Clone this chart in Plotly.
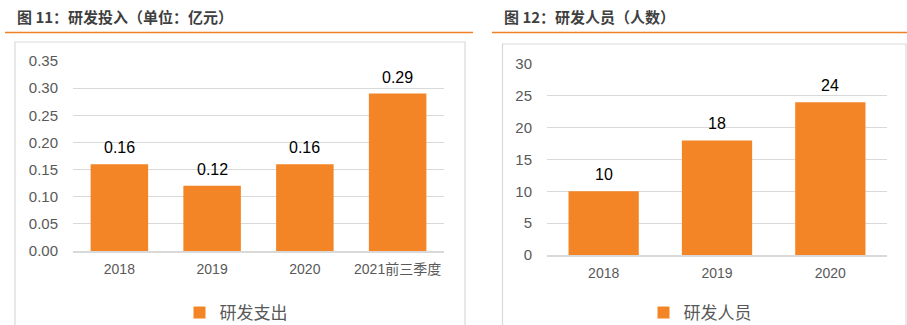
import plotly.graph_objects as go

W, H = 907, 325

# Data
cats_rd = ["2018", "2019", "2020", "2021前三季度"]
vals_rd = [0.16, 0.12, 0.16, 0.29]
labels_rd = ["0.16", "0.12", "0.16", "0.29"]
ticks_rd = [0, 0.05, 0.10, 0.15, 0.20, 0.25, 0.30, 0.35]
ticktext_rd = ["0.00", "0.05", "0.10", "0.15", "0.20", "0.25", "0.30", "0.35"]

cats_staff = ["2018", "2019", "2020"]
vals_staff = [10, 18, 24]
ticks_staff = [0, 5, 10, 15, 20, 25, 30]

title_left = "图 11：研发投入（单位：亿元）"
title_right = "图 12：研发人员（人数）"
name_left = "研发支出"
name_right = "研发人员"

BAR = "#F38526"
ORANGE = "#F08024"
GRID = "#D9D9D9"
FONT = "Liberation Sans, Arial, Noto Sans CJK SC, sans-serif"
CJK = "Noto Sans CJK SC, sans-serif"


def px(x):
    return x / W


def py(y):
    return 1 - y / H


fig = go.Figure()
fig.add_trace(go.Bar(x=cats_rd, y=vals_rd, name=name_left, marker_color=BAR,
                     marker_line_width=0, width=0.62, xaxis="x", yaxis="y",
                     legend="legend"))
fig.add_trace(go.Bar(x=cats_staff, y=vals_staff, name=name_right, marker_color=BAR,
                     marker_line_width=0, width=0.62, xaxis="x2", yaxis="y2",
                     legend="legend2"))

annotations = []
for i, (v, t) in enumerate(zip(vals_rd, labels_rd)):
    annotations.append(dict(x=i, y=v, xref="x", yref="y", text=t, showarrow=False,
                            yanchor="bottom", yshift=6,
                            font=dict(family=FONT, size=16, color="#000000")))
for i, v in enumerate(vals_staff):
    annotations.append(dict(x=i, y=v, xref="x2", yref="y2", text=str(v), showarrow=False,
                            yanchor="bottom", yshift=6,
                            font=dict(family=FONT, size=16, color="#000000")))

annotations.append(dict(x=px(15), y=py(17), xref="paper", yref="paper", text="<b>" + title_left + "</b>",
                        showarrow=False, xanchor="left", yanchor="middle",
                        font=dict(family=CJK, size=15, color="#3F3F3F")))
annotations.append(dict(x=px(502), y=py(17), xref="paper", yref="paper", text="<b>" + title_right + "</b>",
                        showarrow=False, xanchor="left", yanchor="middle",
                        font=dict(family=CJK, size=15, color="#3F3F3F")))

shapes = [
    dict(type="line", xref="paper", yref="paper", x0=px(5), x1=px(473), y0=py(32.5), y1=py(32.5),
         line=dict(color=ORANGE, width=1.5)),
    dict(type="line", xref="paper", yref="paper", x0=px(492), x1=px(907), y0=py(32.5), y1=py(32.5),
         line=dict(color=ORANGE, width=1.5)),
    dict(type="rect", xref="paper", yref="paper", x0=px(15), x1=px(465), y0=py(340), y1=py(42),
         line=dict(color=GRID, width=1.2), fillcolor="rgba(0,0,0,0)", layer="below"),
    dict(type="rect", xref="paper", yref="paper", x0=px(502.5), x1=px(906), y0=py(340), y1=py(44),
         line=dict(color=GRID, width=1.2), fillcolor="rgba(0,0,0,0)", layer="below"),
]

axis_font = dict(family=FONT, size=14, color="#595959")

fig.update_layout(
    width=W, height=H,
    margin=dict(l=0, r=0, t=0, b=0, autoexpand=False),
    paper_bgcolor="white", plot_bgcolor="white",
    showlegend=True,
    xaxis=dict(domain=[px(73), px(444)], anchor="y", type="category", tickfont=axis_font,
               showgrid=False, showline=True, linecolor=GRID, linewidth=1.5,
               ticks="", ticklabelstandoff=4, range=[-0.5, len(cats_rd) - 0.5], automargin=False),
    yaxis=dict(domain=[py(251), py(61)], anchor="x", range=[0, 0.35],
               tickvals=ticks_rd, ticktext=ticktext_rd, tickfont=dict(family=FONT, size=15, color="#595959"),
               showgrid=True, gridcolor=GRID, gridwidth=1, zeroline=False,
               showline=False, ticks="", ticklabelstandoff=14, automargin=False),
    xaxis2=dict(domain=[px(547), px(887)], anchor="y2", type="category", tickfont=axis_font,
                showgrid=False, showline=True, linecolor=GRID, linewidth=1.5,
                ticks="", ticklabelstandoff=4, range=[-0.5, len(cats_staff) - 0.5], automargin=False),
    yaxis2=dict(domain=[py(255), py(64)], anchor="x2", range=[0, 30],
                tickvals=ticks_staff, tickfont=dict(family=FONT, size=15, color="#595959"),
                showgrid=True, gridcolor=GRID, gridwidth=1, zeroline=False,
                showline=False, ticks="", ticklabelstandoff=14, automargin=False),
    legend=dict(x=px(236), y=py(313), xanchor="center", yanchor="middle",
                orientation="h", font=dict(family=CJK, size=17, color="#595959"),
                bgcolor="rgba(0,0,0,0)", itemwidth=30),
    legend2=dict(x=px(700), y=py(313), xanchor="center", yanchor="middle",
                 orientation="h", font=dict(family=CJK, size=17, color="#595959"),
                 bgcolor="rgba(0,0,0,0)", itemwidth=30),
    annotations=annotations,
    shapes=shapes,
)

fig.write_html("out.html")
